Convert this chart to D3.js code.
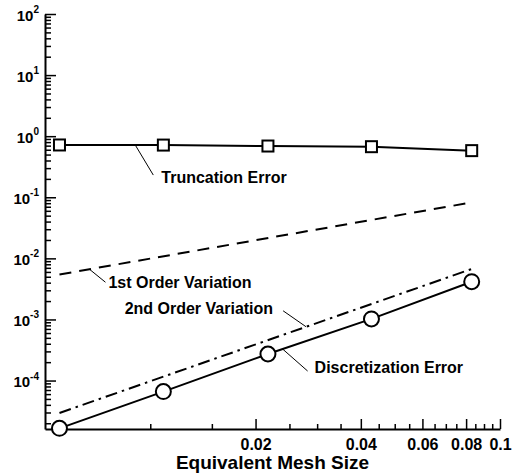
<!DOCTYPE html>
<html>
<head>
<meta charset="utf-8">
<script src="https://cdn.jsdelivr.net/npm/d3@7"></script>
<style>
  body { margin: 0; background: #fff; }
  svg { display: block; }
  text { font-family: "Liberation Sans", Arial, Helvetica, sans-serif; font-weight: bold; fill: #000; }
</style>
</head>
<body>
<svg width="514" height="475"></svg>
<script>
// mesh sizes (same for both error series)
const meshSize = [0.0055, 0.0109, 0.0217, 0.0429, 0.083];
const truncationError = [0.718, 0.715, 0.69, 0.673, 0.58];
const discretizationError = [1.65e-5, 6.6e-5, 2.72e-4, 1.02e-3, 4.15e-3];

// reference slopes, drawn between the end meshes
const refX = [0.0055, 0.083];
const firstOrder = [5.45e-3, 0.0823];
const secondOrder = [2.95e-5, 6.7e-3];

const xMajorTicks = [0.02, 0.04, 0.06, 0.08, 0.1];
const xTickLabels = ["0.02", "0.04", "0.06", "0.08", "0.1"];
const xMinorTicks = [0.01, 0.015, 0.025, 0.03, 0.035, 0.045, 0.05, 0.055,
                     0.065, 0.07, 0.075, 0.085, 0.09, 0.095];
const yMajorTicks = [1e-4, 1e-3, 1e-2, 1e-1, 1, 10, 100];
const yExponents = ["-4", "-3", "-2", "-1", "0", "1", "2"];

const svg = d3.select("svg");
const plotLeft = 45, plotRight = 500, plotTop = 14, plotBottom = 429;

const x = d3.scaleLog().domain([0.005, 0.1]).range([plotLeft, plotRight]);
const y = d3.scaleLog().domain([1.61e-5, 100]).range([plotBottom, plotTop]);

// minor y ticks: 2..9 in each decade
let yMinorTicks = [];
for (let e = -5; e <= 1; e++) {
  for (let k = 2; k <= 9; k++) {
    let v = k * Math.pow(10, e);
    if (v >= y.domain()[0] && v <= 100) yMinorTicks.push(v);
  }
}

// axes
svg.append("g")
  .attr("transform", "translate(0," + plotBottom + ")")
  .call(d3.axisBottom(x).tickValues(xMinorTicks).tickSizeInner(-5).tickSizeOuter(0).tickFormat(""))
  .call(g => g.select(".domain").remove());
const xAxisG = svg.append("g")
  .attr("transform", "translate(0," + plotBottom + ")")
  .call(d3.axisBottom(x).tickValues(xMajorTicks).tickSizeInner(-10).tickSizeOuter(0)
        .tickPadding(6).tickFormat((d, i) => xTickLabels[i]));
xAxisG.selectAll("text").attr("font-size", 16).attr("dy", "0.95em");

svg.append("g")
  .attr("transform", "translate(" + plotLeft + ",0)")
  .call(d3.axisLeft(y).tickValues(yMinorTicks).tickSizeInner(-6).tickSizeOuter(0).tickFormat(""))
  .call(g => g.select(".domain").remove());
const yAxisG = svg.append("g")
  .attr("transform", "translate(" + plotLeft + ",0)")
  .call(d3.axisLeft(y).tickValues(yMajorTicks).tickSizeInner(-11).tickSizeOuter(0)
        .tickPadding(6).tickFormat(""));
yAxisG.selectAll(".tick text").each(function(d, i) {
  const t = d3.select(this).attr("dy", "0.4em").attr("font-size", 15);
  t.append("tspan").text("10");
  t.append("tspan").attr("font-size", 10).attr("dy", "-0.75em").text(yExponents[i]);
});

svg.selectAll(".domain").attr("stroke-width", 2);
svg.selectAll(".tick line").attr("stroke-width", 1.5);

// lines
const line = d3.line().x(d => x(d[0])).y(d => y(d[1]));

svg.append("path")
  .datum(d3.zip(refX, firstOrder))
  .attr("d", line).attr("fill", "none").attr("stroke", "#000")
  .attr("stroke-width", 2).attr("stroke-dasharray", "12,8");

svg.append("path")
  .datum(d3.zip(refX, secondOrder))
  .attr("d", line).attr("fill", "none").attr("stroke", "#000")
  .attr("stroke-width", 2).attr("stroke-dasharray", "12,5,2.5,5");

svg.append("path")
  .datum(d3.zip(meshSize, truncationError))
  .attr("d", line).attr("fill", "none").attr("stroke", "#000").attr("stroke-width", 2);

svg.append("path")
  .datum(d3.zip(meshSize, discretizationError))
  .attr("d", line).attr("fill", "none").attr("stroke", "#000").attr("stroke-width", 2);

// markers
const sq = 11;
svg.append("g").selectAll("rect")
  .data(d3.zip(meshSize, truncationError))
  .enter().append("rect")
  .attr("x", d => x(d[0]) - sq / 2)
  .attr("y", d => y(d[1]) - sq / 2)
  .attr("width", sq).attr("height", sq)
  .attr("fill", "#fff").attr("stroke", "#000").attr("stroke-width", 2);

svg.append("g").selectAll("circle")
  .data(d3.zip(meshSize, discretizationError))
  .enter().append("circle")
  .attr("cx", d => x(d[0]))
  .attr("cy", d => y(d[1]))
  .attr("r", 7.5)
  .attr("fill", "#fff").attr("stroke", "#000").attr("stroke-width", 2);

// y on a series at a given x (log-log interpolation), for label leaders
function onLine(xs, ys, xv) {
  for (let i = 0; i < xs.length - 1; i++) {
    if (xv >= xs[i] && xv <= xs[i + 1]) {
      let t = (Math.log(xv) - Math.log(xs[i])) / (Math.log(xs[i + 1]) - Math.log(xs[i]));
      return Math.exp(Math.log(ys[i]) + t * (Math.log(ys[i + 1]) - Math.log(ys[i])));
    }
  }
  return ys[0];
}

// annotations: leader from a point on the curve, pixel offsets for the end and text
const labels = [
  {text: "Truncation Error", xs: meshSize, ys: truncationError, at: 0.00906, lx: 18, ly: 30, tx: 26, ty: 38, anchor: "start"},
  {text: "1st Order Variation", xs: refX, ys: firstOrder, at: 0.0067, lx: 16, ly: 13, tx: 19, ty: 19, anchor: "start"},
  {text: "2nd Order Variation", xs: refX, ys: secondOrder, at: 0.0279, lx: -23, ly: -16, tx: -33, ty: -13, anchor: "end"},
  {text: "Discretization Error", xs: meshSize, ys: discretizationError, at: 0.0239, lx: 25, ly: 22, tx: 32, ty: 24, anchor: "start"}
];

labels.forEach(l => {
  const px = x(l.at), py = y(onLine(l.xs, l.ys, l.at));
  svg.append("line")
    .attr("x1", px).attr("y1", py)
    .attr("x2", px + l.lx).attr("y2", py + l.ly)
    .attr("stroke", "#000").attr("stroke-width", 1);
  svg.append("text")
    .attr("x", px + l.tx).attr("y", py + l.ty)
    .attr("text-anchor", l.anchor)
    .attr("font-size", 16)
    .text(l.text);
});

// axis title
svg.append("text")
  .attr("x", (plotLeft + plotRight) / 2)
  .attr("y", 469)
  .attr("text-anchor", "middle")
  .attr("font-size", 19)
  .text("Equivalent Mesh Size");
</script>
</body>
</html>
